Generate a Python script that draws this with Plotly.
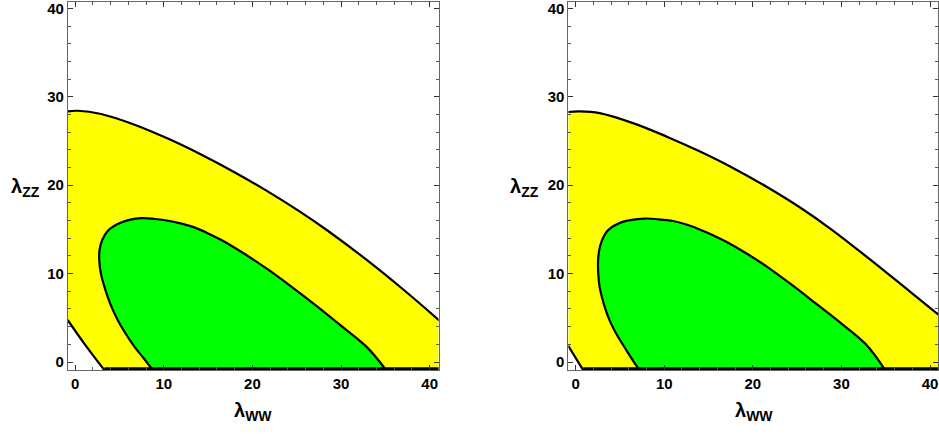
import plotly.graph_objects as go

# ---------------- data ----------------
# Left panel
L_outer_x = [-0.85, 0.30, 2.93, 6.70, 10.45, 14.20, 17.97, 21.72, 25.48, 28.50, 33.00, 36.75, 40.90, 41.10]
L_outer_y = [28.35, 28.42, 28.05, 26.84, 25.27, 23.47, 21.47, 19.30, 16.93, 14.85, 11.47, 8.43, 4.86, 4.68]
L_inner_x = [3.36, 1.17, -0.85]
L_inner_y = [-1.00, 1.88, 4.76]
L_green_x = [8.82, 7.75, 6.70, 5.70, 4.81, 3.95, 3.31, 2.90, 2.72, 2.75, 3.05, 3.69, 5.19, 7.47,
             9.00, 10.50, 12.00, 13.50, 15.00, 16.50, 19.00, 21.70, 24.50, 27.36, 30.20, 33.00, 35.15]
L_green_y = [-1.00, 0.40, 1.72, 3.20, 4.72, 6.60, 8.47, 10.00, 11.47, 12.70, 13.80, 14.85, 15.78, 16.27,
             16.18, 15.98, 15.65, 15.20, 14.55, 13.80, 12.30, 10.50, 8.45, 6.25, 3.95, 1.60, -1.00]

# Right panel
R_outer_x = [-0.85, 0.45, 2.71, 6.47, 10.23, 13.98, 17.75, 21.50, 25.25, 29.00, 32.76, 36.53, 40.66, 41.10]
R_outer_y = [28.28, 28.35, 28.15, 27.02, 25.52, 23.83, 21.95, 19.85, 17.53, 14.90, 11.97, 8.95, 5.60, 5.25]
R_inner_x = [0.90, -0.85]
R_inner_y = [-1.00, 1.85]
R_green_x = [7.28, 6.45, 5.72, 4.70, 3.83, 3.20, 2.71, 2.55, 2.53, 2.65, 2.95, 3.60, 5.30, 7.78,
             9.30, 11.00, 12.50, 14.00, 15.50, 17.00, 19.25, 21.50, 24.30, 27.14, 30.00, 32.76, 35.00]
R_green_y = [-1.00, 0.20, 1.35, 3.00, 4.72, 6.50, 8.47, 10.00, 11.47, 12.60, 13.70, 14.85, 15.85, 16.23,
             16.15, 15.95, 15.55, 15.00, 14.35, 13.60, 12.30, 10.85, 8.80, 6.60, 4.35, 2.00, -1.00]

x_ticks = [0, 10, 20, 30, 40]
y_ticks = [0, 10, 20, 30, 40]
x_range = [-0.82, 41.0]
y_range = [-0.90, 40.72]

YELLOW = "#FFFF00"
GREEN = "#00FF00"

fig = go.Figure()


def add_panel(outer_x, outer_y, inner_x, inner_y, green_x, green_y, xa, ya):
    # yellow band: lower-left boundary, then the outer curve, then the bottom-right corner
    yx = inner_x + outer_x + [outer_x[-1], inner_x[0]]
    yy = inner_y + outer_y + [-1.0, -1.0]
    fig.add_trace(go.Scatter(x=yx, y=yy, mode="lines", fill="toself", fillcolor=YELLOW,
                             line=dict(width=0, color=YELLOW), xaxis=xa, yaxis=ya, hoverinfo="skip"))
    # green ellipse
    fig.add_trace(go.Scatter(x=green_x, y=green_y, mode="lines", fill="toself", fillcolor=GREEN,
                             line=dict(width=2.2, color="black", shape="spline", smoothing=1.0),
                             xaxis=xa, yaxis=ya, hoverinfo="skip"))
    # outer boundary
    fig.add_trace(go.Scatter(x=outer_x, y=outer_y, mode="lines",
                             line=dict(width=2.2, color="black", shape="spline", smoothing=1.0),
                             xaxis=xa, yaxis=ya, hoverinfo="skip"))
    # lower-left boundary
    fig.add_trace(go.Scatter(x=inner_x, y=inner_y, mode="lines",
                             line=dict(width=2.2, color="black", shape="spline", smoothing=1.0),
                             xaxis=xa, yaxis=ya, hoverinfo="skip"))
    # region boundary along the bottom edge
    fig.add_trace(go.Scatter(x=[inner_x[0] - 0.05, outer_x[-1]], y=[y_range[0] + 0.15, y_range[0] + 0.15],
                             mode="lines", line=dict(width=3, color="black"),
                             xaxis=xa, yaxis=ya, hoverinfo="skip"))


add_panel(L_outer_x, L_outer_y, L_inner_x, L_inner_y, L_green_x, L_green_y, "x", "y")
add_panel(R_outer_x, R_outer_y, R_inner_x, R_inner_y, R_green_x, R_green_y, "x2", "y2")

W, H = 939, 434
tickfont = dict(family="Liberation Sans, Arial, sans-serif", size=15, color="black", weight="bold")

axis_common = dict(showgrid=False, zeroline=False, showline=True, linecolor="#666666", linewidth=1,
                   mirror="ticks", ticks="inside", ticklen=5, tickwidth=1, tickcolor="#333333",
                   tickfont=tickfont, ticklabeloverflow="allow",
                   minor=dict(ticks="inside", ticklen=3, tickwidth=1, tickcolor="#555555", dtick=2, showgrid=False))

fig.update_layout(
    width=W, height=H,
    margin=dict(l=0, r=0, t=0, b=64),
    paper_bgcolor="white", plot_bgcolor="white",
    showlegend=False,
    xaxis=dict(domain=[68 / W, 439 / W], range=x_range, tickvals=x_ticks, anchor="y", **axis_common),
    yaxis=dict(domain=[0, 1], range=y_range, tickvals=y_ticks, anchor="x", **axis_common),
    xaxis2=dict(domain=[569 / W, 1.0], range=[x_range[0], 40.9], tickvals=x_ticks, anchor="y2", **axis_common),
    yaxis2=dict(domain=[0, 1], range=y_range, tickvals=y_ticks, anchor="x2", **axis_common),
)

title_font = dict(family="Liberation Sans, Arial, sans-serif", size=20, color="black")
ann = []
for xr in [42 / W, 542 / W]:
    ann.append(dict(text="<b>λ<sub>ZZ</sub></b>", x=xr, y=0.497, xref="paper", yref="paper",
                    xanchor="right", yanchor="middle", showarrow=False, font=title_font))
for xc in [253.5 / W, 754.5 / W]:
    ann.append(dict(text="<b>λ<sub>WW</sub></b>", x=xc, y=-0.113, xref="paper", yref="paper",
                    xanchor="center", yanchor="middle", showarrow=False, font=title_font))
fig.update_layout(annotations=ann)

fig.write_html("out.html")
